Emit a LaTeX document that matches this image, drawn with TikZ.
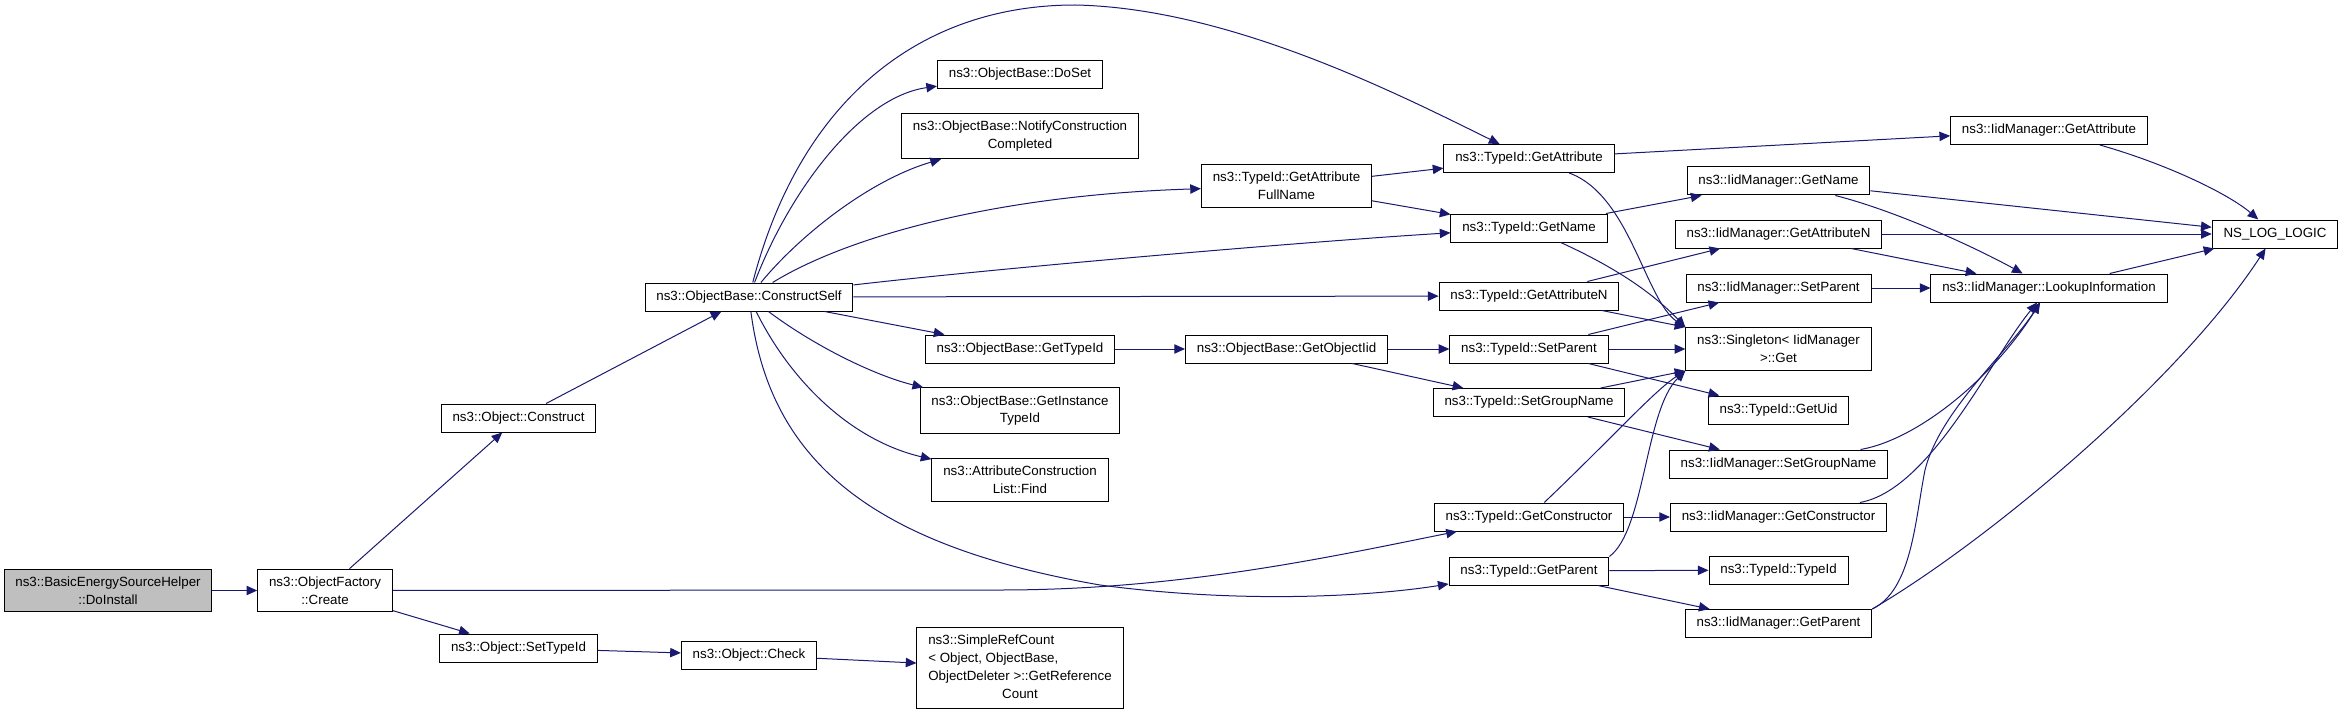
\documentclass[tikz,border=0pt]{standalone}
\usepackage{xcolor}
\definecolor{color1}{HTML}{BFBFBF}
\definecolor{color2}{HTML}{191970}
\usepackage{fontspec}
\setmainfont{Liberation Sans}
\usepackage{tikz}
\usetikzlibrary{arrows.meta}

\begin{document}
\begin{tikzpicture}[x=0.75pt,y=-0.75pt,
    fn/.style={draw=black,line width=0.75pt,fill=white,align=center,inner xsep=8.5pt,inner ysep=5.7pt,minimum height=21pt,font=\fontsize{10}{13.3}\selectfont},
    root/.style={fn,fill=color1},
    call/.style={draw=color2,line width=0.75pt,-{Triangle[length=8pt,width=7pt]}}] % coordinates in pixels of the graph
  \useasboundingbox (0,0) rectangle (2341,713);
  % Define the function boxes, column by column
  \node[root] (di) at (108,590.5) {ns3::BasicEnergySourceHelper\\::DoInstall};
  \node[fn] (ofc) at (325,590.5) {ns3::ObjectFactory\\::Create};
  \node[fn] (oc) at (518.5,418) {ns3::Object::Construct};
  \node[fn] (ost) at (518.5,648) {ns3::Object::SetTypeId};
  \node[fn] (cs) at (749,297) {ns3::ObjectBase::ConstructSelf};
  \node[fn] (och) at (749,655) {ns3::Object::Check};
  \node[fn] (ds) at (1020,74.5) {ns3::ObjectBase::DoSet};
  \node[fn] (ncc) at (1020,136) {ns3::ObjectBase::NotifyConstruction\\Completed};
  \node[fn] (obt) at (1020,349) {ns3::ObjectBase::GetTypeId};
  \node[fn] (git) at (1020,410.5) {ns3::ObjectBase::GetInstance\\TypeId};
  \node[fn] (acf) at (1020,480) {ns3::AttributeConstruction\\List::Find};
  \node[fn,inner ysep=3.8pt] (src) at (1020,668) {\begin{tabular}{@{}l@{}}ns3::SimpleRefCount\\< Object, ObjectBase,\\ObjectDeleter >::GetReference\\\multicolumn{1}{@{}c@{}}{Count}\end{tabular}};
  \node[fn] (tgafn) at (1286.5,186) {ns3::TypeId::GetAttribute\\FullName};
  \node[fn] (goi) at (1286.5,349) {ns3::ObjectBase::GetObjectIid};
  \node[fn] (tga) at (1529,158.5) {ns3::TypeId::GetAttribute};
  \node[fn] (tgn) at (1529,228) {ns3::TypeId::GetName};
  \node[fn] (tgan) at (1529,296) {ns3::TypeId::GetAttributeN};
  \node[fn] (tsp) at (1529,349) {ns3::TypeId::SetParent};
  \node[fn] (tsg) at (1529,402.5) {ns3::TypeId::SetGroupName};
  \node[fn] (tgc) at (1529,517) {ns3::TypeId::GetConstructor};
  \node[fn] (tgp) at (1529,571) {ns3::TypeId::GetParent};
  \node[fn] (imn) at (1778.5,181) {ns3::IidManager::GetName};
  \node[fn] (iman) at (1778.5,234) {ns3::IidManager::GetAttributeN};
  \node[fn] (imsp) at (1778.5,288) {ns3::IidManager::SetParent};
  \node[fn] (sng) at (1778.5,349) {ns3::Singleton< IidManager\\ >::Get};
  \node[fn] (tgu) at (1778.5,410) {ns3::TypeId::GetUid};
  \node[fn] (imsg) at (1778.5,464) {ns3::IidManager::SetGroupName};
  \node[fn] (imgc) at (1778.5,517) {ns3::IidManager::GetConstructor};
  \node[fn] (tti) at (1778.5,570) {ns3::TypeId::TypeId};
  \node[fn] (imgp) at (1778.5,623.5) {ns3::IidManager::GetParent};
  \node[fn] (ima) at (2049,130.5) {ns3::IidManager::GetAttribute};
  \node[fn] (iml) at (2049,288) {ns3::IidManager::LookupInformation};
  \node[fn] (nll) at (2275,234) {NS\_LOG\_LOGIC};
  % Draw the calls
  \draw[call] (di) -- (ofc);
  \draw[call] (ofc) -- (oc);
  \draw[call] (ofc) -- (1000,590) .. controls (1180,590) and (1330,557) .. (tgc);
  \draw[call] (ofc) -- (ost);
  \draw[call] (oc) -- (cs);
  \draw[call] (ost) -- (och);
  \draw[call] (och) -- (src);
  \draw[call] (cs) .. controls (800,100) and (920,5) .. (1075,5) .. controls (1230,8) and (1400,95) .. (tga);
  \draw[call] (cs) .. controls (790,190) and (860,97) .. (ds);
  \draw[call] (cs) .. controls (800,235) and (870,180) .. (ncc);
  \draw[call] (cs) .. controls (850,235) and (1000,195) .. (tgafn);
  \draw[call] (cs) .. controls (1000,268) and (1300,242) .. (tgn);
  \draw[call] (cs) -- (tgan);
  \draw[call] (cs) -- (obt);
  \draw[call] (cs) .. controls (820,350) and (880,377) .. (git);
  \draw[call] (cs) .. controls (790,380) and (850,440) .. (acf);
  \draw[call] (cs) .. controls (770,460) and (870,545) .. (1100,585) .. controls (1250,605) and (1380,595) .. (tgp);
  \draw[call] (obt) -- (goi);
  \draw[call] (goi) -- (tsp);
  \draw[call] (goi) -- (tsg);
  \draw[call] (tgafn) -- (tga);
  \draw[call] (tgafn) -- (tgn);
  \draw[call] (tga) -- (ima);
  \draw[call] (tga) .. controls (1630,195) and (1645,300) .. (sng.north west);
  \draw[call] (tgn) -- (imn);
  \draw[call] (tgn) .. controls (1610,265) and (1650,290) .. (sng.north west);
  \draw[call] (tgan) -- (iman);
  \draw[call] (tgan) -- (sng.north west);
  \draw[call] (tsp) -- (imsp);
  \draw[call] (tsp) -- (sng);
  \draw[call] (tsp) -- (tgu);
  \draw[call] (tsg) -- (sng.south west);
  \draw[call] (tsg) -- (imsg);
  \draw[call] (tgc) .. controls (1610,440) and (1655,390) .. (sng.south west);
  \draw[call] (tgc) -- (imgc);
  \draw[call] (tgp.north east) .. controls (1645,530) and (1645,410) .. (sng.south west);
  \draw[call] (tgp) -- (tti);
  \draw[call] (tgp) -- (imgp);
  \draw[call] (ima) .. controls (2170,165) and (2230,195) .. (nll);
  \draw[call] (imn) -- (nll);
  \draw[call] (imn) .. controls (1900,212) and (1980,250) .. (iml);
  \draw[call] (iman) -- (nll);
  \draw[call] (iman) -- (iml);
  \draw[call] (imsp) -- (iml);
  \draw[call] (imsg) .. controls (1920,439) and (1995,375) .. (iml);
  \draw[call] (imgc) .. controls (1930,490) and (1990,360) .. (iml);
  \draw[call] (imgp.north east) .. controls (1912,590) and (1915,520) .. (1925,470) .. controls (1940,410) and (2010,350) .. (iml);
  \draw[call] (imgp.north east) .. controls (1990,540) and (2180,380) .. (nll);
  \draw[call] (iml) -- (nll);
\end{tikzpicture}
\end{document}
